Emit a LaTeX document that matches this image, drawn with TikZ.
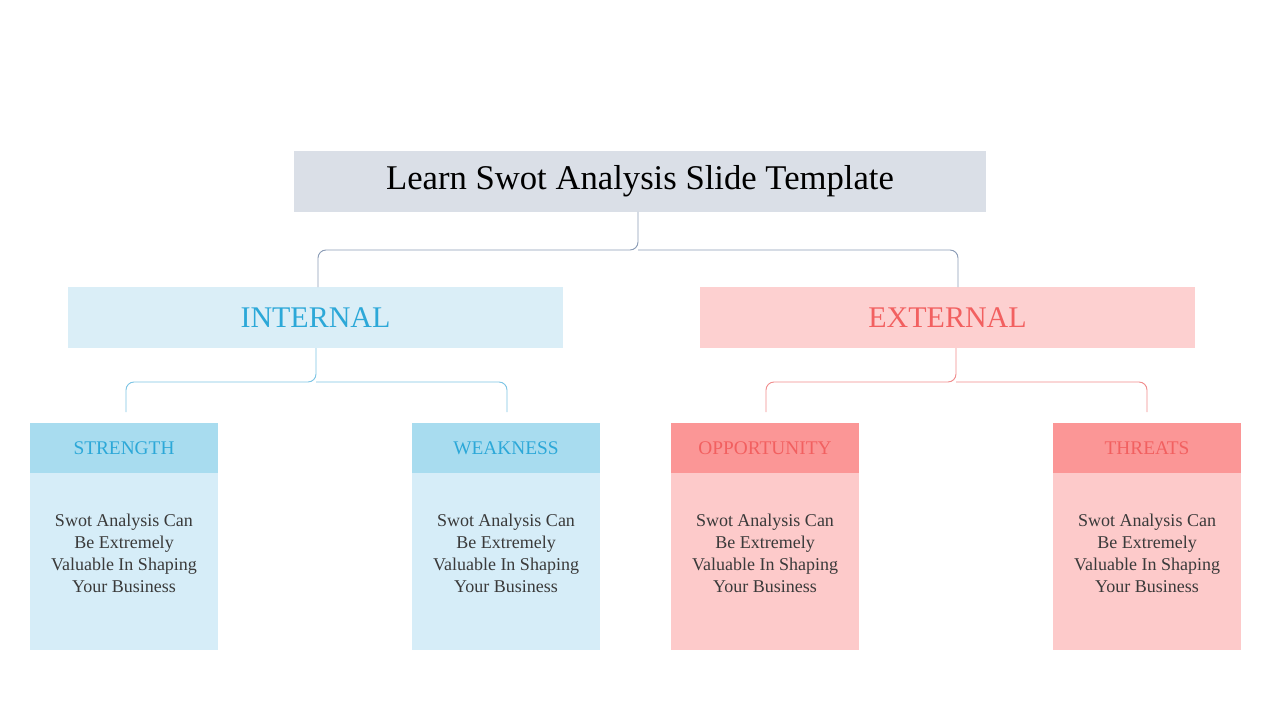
\documentclass[tikz,border=0pt]{standalone}
\usepackage{fontspec}
\setmainfont{Liberation Serif}
\definecolor{titlebg}{HTML}{DADFE7}
\definecolor{inbg}{HTML}{DAEEF7}
\definecolor{intx}{HTML}{2CA8D8}
\definecolor{inhd}{HTML}{A8DCEF}
\definecolor{inbd}{HTML}{D6EDF8}
\definecolor{exbg}{HTML}{FDD0D0}
\definecolor{extx}{HTML}{F26060}
\definecolor{exhd}{HTML}{FB9696}
\definecolor{exbd}{HTML}{FDCACA}
\definecolor{brgray}{HTML}{8A9BB5}
\definecolor{brblue}{HTML}{7CC4E4}
\definecolor{brpink}{HTML}{F08C8C}
\definecolor{bodytx}{HTML}{3A3A3A}
\begin{document}
\begin{tikzpicture}[x=0.75pt,y=-0.75pt,
  box/.style={inner sep=0pt,outer sep=0pt,anchor=north west},
  brace/.style={rounded corners=6pt,line width=0.7pt},
  body/.style={text=bodytx,font=\fontsize{13.5}{16.5}\selectfont,align=center}]
\useasboundingbox (0,0) rectangle (1280,720);
\node[box,fill=titlebg,minimum width=692*0.75pt,minimum height=61*0.75pt,font=\fontsize{26}{30}\selectfont] (title) at (294,151) {Learn Swot Analysis Slide Template};
\node[box,fill=inbg,minimum width=495*0.75pt,minimum height=61*0.75pt,text=intx,font=\fontsize{22.5}{26}\selectfont] (int) at (68,287) {INTERNAL};
\node[box,fill=exbg,minimum width=495*0.75pt,minimum height=61*0.75pt,text=extx,font=\fontsize{22.5}{26}\selectfont] (ext) at (700,287) {EXTERNAL};
\foreach \n/\x/\t/\hd/\bd/\tx in {s/30/STRENGTH/inhd/inbd/intx, w/412/WEAKNESS/inhd/inbd/intx, o/671/OPPORTUNITY/exhd/exbd/extx, t/1053/THREATS/exhd/exbd/extx}{
  \node[box,fill=\hd,minimum width=188*0.75pt,minimum height=50*0.75pt,text=\tx,font=\fontsize{14.5}{17}\selectfont] (\n h) at (\x,423) {\t};
  \node[box,fill=\bd,minimum width=188*0.75pt,minimum height=177*0.75pt] (\n b) at (\x,473) {};
  \node[body] (\n txt) at (\x+94,553) {Swot Analysis Can\\Be Extremely\\Valuable In Shaping\\Your Business};
}
\draw[brace,brgray] (318,287) -- (318,250) -- (638,250) -- (638,212);
\draw[brace,brgray] (958,287) -- (958,250) -- (638,250);
\draw[brace,brblue] (126,412) -- (126,382) -- (316,382) -- (316,348);
\draw[brace,brblue] (507,412) -- (507,382) -- (316,382);
\draw[brace,brpink] (766,412) -- (766,382) -- (956,382) -- (956,348);
\draw[brace,brpink] (1147,412) -- (1147,382) -- (956,382);
\end{tikzpicture}
\end{document}
